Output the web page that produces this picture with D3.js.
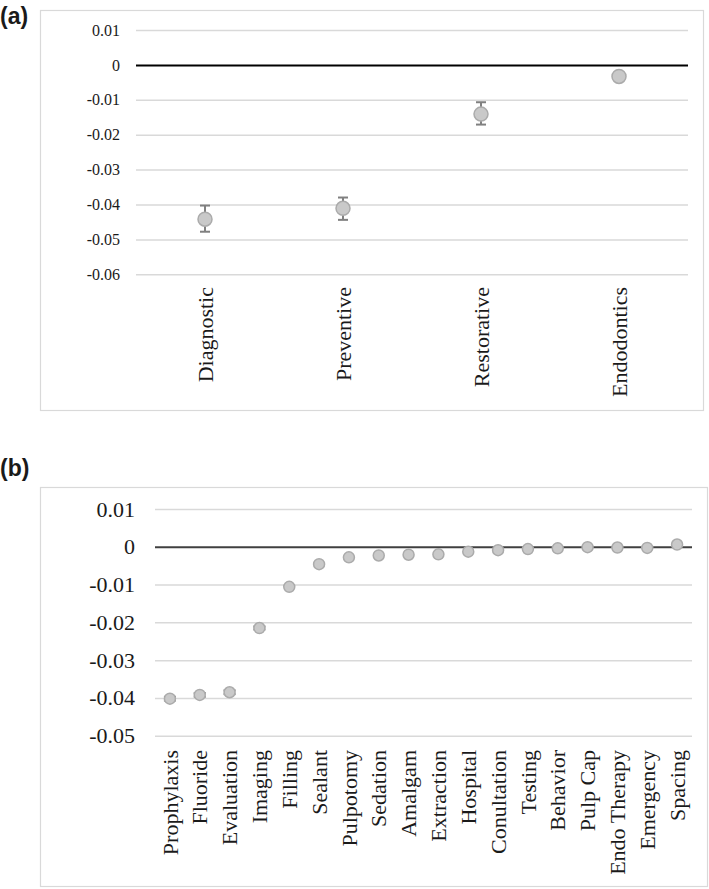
<!DOCTYPE html>
<html><head><meta charset="utf-8">
<script src="https://cdn.jsdelivr.net/npm/d3@7"></script>
<style>body{margin:0;background:#fff}svg{display:block}
.serif{font-family:"Liberation Serif","Times New Roman",serif !important}</style>
</head><body>
<svg id="c" width="709" height="889"></svg>
<script>
// Panel (a)
const catsA = ["Diagnostic", "Preventive", "Restorative", "Endodontics"];
const valsA = [-0.0442, -0.0411, -0.0141, -0.0033];
const loA = [-0.0478, -0.0444, -0.0171, -0.0033];
const hiA = [-0.0403, -0.0380, -0.0107, -0.0033];
const ticksA = [0.01, 0, -0.01, -0.02, -0.03, -0.04, -0.05, -0.06];

// Panel (b)
const catsB = ["Prophylaxis", "Fluoride", "Evaluation", "Imaging", "Filling", "Sealant", "Pulpotomy", "Sedation", "Amalgam", "Extraction", "Hospital", "Conultation", "Testing", "Behavior", "Pulp Cap", "Endo Therapy", "Emergency", "Spacing"];
const valsB = [-0.0402, -0.0392, -0.0385, -0.0215, -0.0106, -0.0046, -0.0028, -0.0023, -0.0021, -0.0020, -0.0013, -0.0009, -0.0006, -0.0004, -0.0001, -0.0002, -0.0003, 0.0006];
const errB = [0.0005, 0.0005, 0.0005, 0.0004, 0, 0, 0, 0, 0, 0, 0, 0, 0, 0, 0, 0, 0, 0];
const ticksB = [0.01, 0, -0.01, -0.02, -0.03, -0.04, -0.05];

const svg = d3.select("#c");
const fmt = d => d === 0 ? "0" : d3.format(".2f")(d).replace("−", "-");

function panel(cfg) {
  const g = svg.append("g");
  g.append("rect").attr("x", cfg.frame[0] + 0.5).attr("y", cfg.frame[1] + 0.5)
    .attr("width", cfg.frame[2]).attr("height", cfg.frame[3])
    .attr("fill", "none").attr("stroke", "#d9d9d9").attr("stroke-width", 1.2);
  g.append("text").attr("x", 0).attr("y", cfg.labelY).text(cfg.label)
    .style("font-family", "'Liberation Sans', Arial, sans-serif").style("font-weight", "bold")
    .style("font-size", "23px").attr("fill", "#1a1a1a");

  const x = d3.scaleBand().domain(cfg.cats).range(cfg.xr);
  const y = d3.scaleLinear().domain([d3.min(cfg.ticks), d3.max(cfg.ticks)]).range(cfg.yr);

  const yAxis = d3.axisLeft(y).tickValues(cfg.ticks).tickFormat(fmt)
    .tickSize(-(cfg.xr[1] - cfg.xr[0])).tickPadding(cfg.tickPad);
  const ga = g.append("g").attr("transform", `translate(${cfg.xr[0]},0)`).call(yAxis)
    .attr("font-family", null).attr("font-size", null);
  ga.select(".domain").remove();
  ga.selectAll(".tick line").attr("stroke", d => d === 0 ? cfg.zeroColor : "#d9d9d9")
    .attr("stroke-width", d => d === 0 ? 2 : 1.5);
  ga.selectAll(".tick text").attr("class", "serif")
    .style("font-size", cfg.yFont + "px").attr("fill", "#1a1a1a");
  ga.selectAll(".tick").filter(d => d === 0).raise();

  const xAxis = d3.axisBottom(x).tickSize(0).tickPadding(0);
  const gx = g.append("g").attr("transform", `translate(0,${cfg.labelTop})`).call(xAxis)
    .attr("font-family", null).attr("font-size", null);
  gx.select(".domain").remove();
  gx.selectAll(".tick text").attr("class", "serif")
    .style("font-size", cfg.xFont + "px").attr("fill", "#1a1a1a")
    .attr("transform", "rotate(-90)")
    .attr("text-anchor", "end").attr("x", 0).attr("y", 0).attr("dy", "0.35em");

  const cx = d => x(d) + x.bandwidth() / 2;
  const eg = g.append("g");
  cfg.cats.forEach((c, i) => {
    const lo = cfg.lo[i], hi = cfg.hi[i];
    if (hi - lo > 0) {
      eg.append("line").attr("x1", cx(c)).attr("x2", cx(c)).attr("y1", y(lo)).attr("y2", y(hi))
        .attr("stroke", "#808080").attr("stroke-width", 2);
      [lo, hi].forEach(v => eg.append("line")
        .attr("x1", cx(c) - cfg.cap).attr("x2", cx(c) + cfg.cap).attr("y1", y(v)).attr("y2", y(v))
        .attr("stroke", "#808080").attr("stroke-width", 2));
    }
  });
  g.append("g").selectAll("circle").data(cfg.cats).join("circle")
    .attr("cx", cx).attr("cy", (d, i) => y(cfg.vals[i])).attr("r", cfg.r)
    .attr("fill", "#c9c9c9").attr("stroke", "#ababab").attr("stroke-width", 1.5);
}

panel({
  frame: [40, 10, 663, 400], label: "(a)", labelY: 24,
  cats: catsA, vals: valsA, lo: loA, hi: hiA, ticks: ticksA,
  xr: [136, 688], yr: [274.3, 30], tickPad: 16, yFont: 16, xFont: 22,
  labelTop: 287, zeroColor: "#000", r: 7, cap: 5
});
panel({
  frame: [40, 487, 667, 399], label: "(b)", labelY: 476,
  cats: catsB, vals: valsB, lo: valsB.map((v, i) => v - errB[i]), hi: valsB.map((v, i) => v + errB[i]),
  ticks: ticksB, xr: [155, 692], yr: [735.7, 509], tickPad: 20, yFont: 22, xFont: 22,
  labelTop: 750, zeroColor: "#404040", r: 5.5, cap: 6
});
</script>
</body></html>
